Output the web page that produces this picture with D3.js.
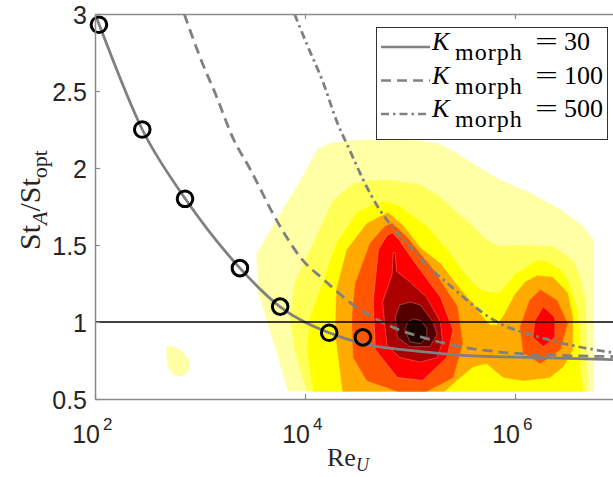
<!DOCTYPE html>
<html><head><meta charset="utf-8">
<script src="https://cdn.jsdelivr.net/npm/d3@7"></script>
<style>body{margin:0;background:#fff;} svg{display:block;}</style>
</head><body>
<svg id="chart" width="613" height="477"></svg>
<script>
// ---------------- data ----------------
const xTickExponents = [2, 4, 6];
const yTicks = [0.5, 1, 1.5, 2, 2.5, 3];
const yTickLabels = ["0.5", "1", "1.5", "2", "2.5", "3"];
// measured points (Re_U, St_A/St_opt)
const pointsRe = [109, 282, 720, 2400, 5800, 17000, 35600];
const pointsSt = [2.93, 2.25, 1.80, 1.35, 1.10, 0.93, 0.90];
// model curves, [log10 Re_U, St_A/St_opt]
const curveK30 = [[2.0,3.0],[2.04,2.93],[2.45,2.25],[2.86,1.80],[3.38,1.35],[3.76,1.10],[4.23,0.93],[4.55,0.86],[4.93,0.82],[5.3,0.795],[5.6,0.78],[6.0,0.772],[6.5,0.764],[7.0,0.755]];
const curveK100 = [[2.85,3.0],[3.0,2.72],[3.16,2.46],[3.31,2.20],[3.48,1.99],[3.73,1.66],[3.98,1.40],[4.17,1.28],[4.31,1.195],[4.46,1.11],[4.65,1.03],[4.84,0.965],[5.12,0.90],[5.48,0.84],[5.86,0.805],[6.36,0.785],[7.0,0.775]];
const curveK500 = [[3.90,3.0],[4.02,2.80],[4.17,2.56],[4.31,2.29],[4.43,2.11],[4.55,1.93],[4.71,1.73],[4.84,1.61],[5.03,1.47],[5.17,1.36],[5.29,1.29],[5.83,1.0],[6.24,0.90],[6.6,0.84],[7.0,0.795]];
const legendK = ["30", "100", "500"];
const referenceSt = 1;
// filled density contours, polygons of [log10 Re_U, St_A/St_opt], level 1 (outer) .. 9 (peak)
const contourL1 = [
  [[3.84,0.55],[3.71,0.85],[3.62,1.05],[3.55,1.21],[3.54,1.44],[3.76,1.70],[3.95,1.91],[4.12,2.12],[4.24,2.16],[4.48,2.18],[4.89,2.19],[5.27,2.16],[5.43,2.10],[5.62,2.02],[5.86,1.92],[6.14,1.84],[6.43,1.73],[6.65,1.62],[6.75,1.53],[6.75,0.55]],
  [[2.68,0.84],[2.76,0.84],[2.84,0.80],[2.90,0.74],[2.90,0.69],[2.84,0.65],[2.76,0.65],[2.69,0.71]]
];
const contourL2 = [
  [[4.02,0.55],[3.90,0.82],[3.86,1.03],[3.90,1.25],[4.27,1.79],[4.46,1.90],[4.65,1.92],[4.81,1.92],[5.10,1.89],[5.29,1.81],[5.45,1.71],[5.60,1.62],[5.73,1.53],[5.86,1.49],[6.02,1.50],[6.36,1.49],[6.55,1.40],[6.62,1.29],[6.67,1.14],[6.69,0.55]]
];
const contourL3 = [
  [[4.08,0.55],[4.02,0.82],[4.05,1.03],[4.17,1.25],[4.30,1.51],[4.50,1.71],[4.67,1.77],[4.78,1.78],[4.90,1.75],[5.16,1.62],[5.35,1.47],[5.48,1.35],[5.57,1.27],[5.67,1.21],[5.76,1.19],[5.86,1.19],[5.92,1.24],[6.00,1.31],[6.08,1.34],[6.21,1.40],[6.30,1.39],[6.43,1.34],[6.50,1.27],[6.59,1.09],[6.62,0.87],[6.62,0.66],[6.65,0.55]]
];
const contourL4 = [
  [[4.79,1.71],[4.93,1.63],[5.10,1.48],[5.29,1.38],[5.48,1.21],[5.60,1.12],[5.67,1.05],[5.76,0.98],[5.83,0.98],[5.90,1.05],[6.00,1.18],[6.10,1.26],[6.21,1.30],[6.36,1.29],[6.50,1.19],[6.55,1.03],[6.55,0.82],[6.46,0.71],[6.33,0.64],[6.08,0.62],[5.89,0.64],[5.73,0.73],[5.60,0.71],[5.41,0.60],[5.33,0.55],[4.36,0.55],[4.33,0.71],[4.29,0.93],[4.30,1.21],[4.40,1.47],[4.59,1.64]]
];
const contourL5 = [
  [[4.83,1.64],[4.97,1.55],[5.22,1.34],[5.45,1.10],[5.50,0.86],[5.41,0.64],[5.16,0.55],[4.88,0.55],[4.59,0.62],[4.46,0.77],[4.45,1.03],[4.48,1.25],[4.62,1.51],[4.76,1.62]],
  [[6.24,1.21],[6.14,1.14],[6.05,0.97],[6.08,0.80],[6.24,0.73],[6.43,0.82],[6.50,0.99],[6.40,1.14]]
];
const contourL6 = [
  [[4.83,1.58],[4.90,1.53],[5.03,1.40],[5.29,1.16],[5.41,0.95],[5.35,0.77],[5.12,0.62],[4.88,0.64],[4.67,0.82],[4.65,1.14],[4.70,1.47],[4.78,1.56]],
  [[6.27,1.10],[6.19,1.01],[6.17,0.90],[6.27,0.84],[6.38,0.90],[6.38,1.03]]
];
const contourL7 = [
  [[4.84,1.45],[4.86,1.45],[4.87,1.33],[5.00,1.26],[5.16,1.16],[5.29,1.00],[5.31,0.87],[5.26,0.77],[5.10,0.74],[4.90,0.77],[4.78,0.85],[4.76,0.98],[4.74,1.13],[4.79,1.23],[4.83,1.31]]
];
const contourL8 = [
  [[4.90,1.11],[5.00,1.13],[5.10,1.11],[5.22,1.00],[5.26,0.92],[5.19,0.84],[5.00,0.84],[4.88,0.90],[4.86,1.03]]
];
const contourL9 = [
  [[5.03,1.02],[5.10,1.01],[5.16,0.96],[5.16,0.90],[5.10,0.86],[5.00,0.87],[4.95,0.95],[4.98,1.00]]
];
const contourColors = ["#ffffa6", "#ffff55", "#ffff00", "#ffaa00", "#ff5500", "#ff0000", "#aa0000", "#550000", "#1c0000"];

// ---------------- drawing ----------------
const svg = d3.select("#chart");
const W = 613, H = 477;
const x = d3.scaleLog().domain([1e2, 1e7]).range([95, 620]);
const y = d3.scaleLinear().domain([0.5, 3]).range([399, 14]);
const gray = "#808080";
const axisColor = "#8a8a8a";
const tickFont = "'Liberation Sans', Arial, Helvetica, sans-serif";
const serif = "'Liberation Serif', 'Times New Roman', serif";

svg.append("defs").append("clipPath").attr("id", "plotclip")
  .append("rect").attr("x", 95).attr("y", 14).attr("width", 620 - 95).attr("height", 399 - 14);

const plot = svg.append("g").attr("clip-path", "url(#plotclip)");

const polyLine = d3.line().x(d => x(Math.pow(10, d[0]))).y(d => y(d[1])).curve(d3.curveLinearClosed);
const levels = [contourL1, contourL2, contourL3, contourL4, contourL5, contourL6, contourL7, contourL8, contourL9];
levels.forEach((polys, i) => {
  plot.append("g").selectAll("path").data(polys).join("path")
    .attr("d", polyLine)
    .attr("fill", contourColors[i])
    .attr("stroke", i >= 5 ? "rgba(255,170,170,0.6)" : contourColors[i])
    .attr("stroke-width", i >= 5 ? 0.6 : 0.5);
});

const curveLine = d3.line().x(d => x(Math.pow(10, d[0]))).y(d => y(d[1])).curve(d3.curveMonotoneX);
const curveStyles = [
  {data: curveK30, dash: null},
  {data: curveK100, dash: "10,6"},
  {data: curveK500, dash: "8,4,2.5,4"}
];
curveStyles.forEach(c => {
  plot.append("path").attr("d", curveLine(c.data))
    .attr("fill", "none").attr("stroke", gray).attr("stroke-width", 2.8)
    .attr("stroke-dasharray", c.dash);
});

// reference line St = 1
plot.append("line")
  .attr("x1", x(1e2)).attr("x2", W)
  .attr("y1", y(referenceSt)).attr("y2", y(referenceSt))
  .attr("stroke", "#000").attr("stroke-width", 1.5);

// measured points
svg.append("g").selectAll("circle").data(pointsRe.map((r, i) => [r, pointsSt[i]])).join("circle")
  .attr("cx", d => x(d[0])).attr("cy", d => y(d[1])).attr("r", 7.8)
  .attr("fill", "none").attr("stroke", "#000").attr("stroke-width", 3);

// axes
const xAxisB = d3.axisBottom(x).tickValues(xTickExponents.map(e => Math.pow(10, e)))
  .tickSizeInner(-5).tickSizeOuter(0).tickFormat("");
const xAxisT = d3.axisTop(x).tickValues(xTickExponents.map(e => Math.pow(10, e)))
  .tickSizeInner(-5).tickSizeOuter(0).tickFormat("");
const yAxisL = d3.axisLeft(y).tickValues(yTicks).tickSizeInner(-5).tickSizeOuter(0)
  .tickPadding(8).tickFormat((d, i) => yTickLabels[i]);

const gxb = svg.append("g").attr("transform", `translate(0,${y(0.5)})`).call(xAxisB);
const gxt = svg.append("g").attr("transform", `translate(0,${y(3)})`).call(xAxisT);
const gyl = svg.append("g").attr("transform", `translate(${x(1e2)},0)`).call(yAxisL);
[gxb, gxt, gyl].forEach(g => {
  g.select(".domain").attr("stroke", axisColor).attr("stroke-width", 1.5);
  g.selectAll(".tick line").attr("stroke", axisColor).attr("stroke-width", 1.2);
});
gyl.selectAll(".tick text").attr("font-family", tickFont).attr("font-size", 25)
  .attr("fill", "#262626").attr("dy", "0.38em");

// x tick labels 10^n
const xl = svg.append("g").selectAll("text").data(xTickExponents).join("text")
  .attr("font-family", tickFont).attr("fill", "#262626");
xl.append("tspan").attr("x", d => x(Math.pow(10, d)) + 5).attr("y", 443)
  .attr("text-anchor", "end").attr("font-size", 25).text("10");
xl.append("tspan").attr("x", d => x(Math.pow(10, d)) + 8).attr("y", 430)
  .attr("font-size", 17).text(d => d);

// axis titles
const xt = svg.append("text").attr("x", 327).attr("y", 466).attr("font-family", serif)
  .attr("font-size", 26).attr("fill", "#262626");
xt.append("tspan").text("Re");
xt.append("tspan").attr("dy", 5).attr("font-size", 18).attr("font-style", "italic").text("U");

const yt = svg.append("text").attr("transform", "translate(40,200) rotate(-90)")
  .attr("text-anchor", "middle").attr("font-family", serif).attr("font-size", 30).attr("fill", "#262626");
yt.append("tspan").text("St");
yt.append("tspan").attr("dy", 7).attr("font-size", 22).attr("font-style", "italic").text("A");
yt.append("tspan").attr("dy", -7).text("/St");
yt.append("tspan").attr("dy", 7).attr("font-size", 22).text("opt");

// legend
const lg = svg.append("g");
lg.append("rect").attr("x", 376.5).attr("y", 27.5).attr("width", 231).attr("height", 112)
  .attr("fill", "#fff").attr("stroke", "#333").attr("stroke-width", 1);
legendK.forEach((k, i) => {
  const b = 50 + i * 33.5;
  lg.append("line").attr("x1", 381).attr("x2", 430).attr("y1", b - 3).attr("y2", b - 3)
    .attr("stroke", gray).attr("stroke-width", 2.6).attr("stroke-dasharray", curveStyles[i].dash);
  lg.append("text").attr("x", 432).attr("y", b).attr("font-family", serif).attr("font-size", 26)
    .attr("font-style", "italic").attr("fill", "#000").text("K");
  lg.append("text").attr("x", 455).attr("y", b + 10).attr("font-family", serif).attr("font-size", 24)
    .attr("letter-spacing", 1).attr("fill", "#000").text("morph");
  lg.append("text").attr("x", 535).attr("y", b).attr("font-family", serif).attr("font-size", 25)
    .attr("textLength", 23).attr("lengthAdjust", "spacingAndGlyphs").attr("fill", "#000").text("=");
  lg.append("text").attr("x", 564).attr("y", b).attr("font-family", serif).attr("font-size", 26)
    .attr("fill", "#000").text(k);
});
</script>
</body></html>
